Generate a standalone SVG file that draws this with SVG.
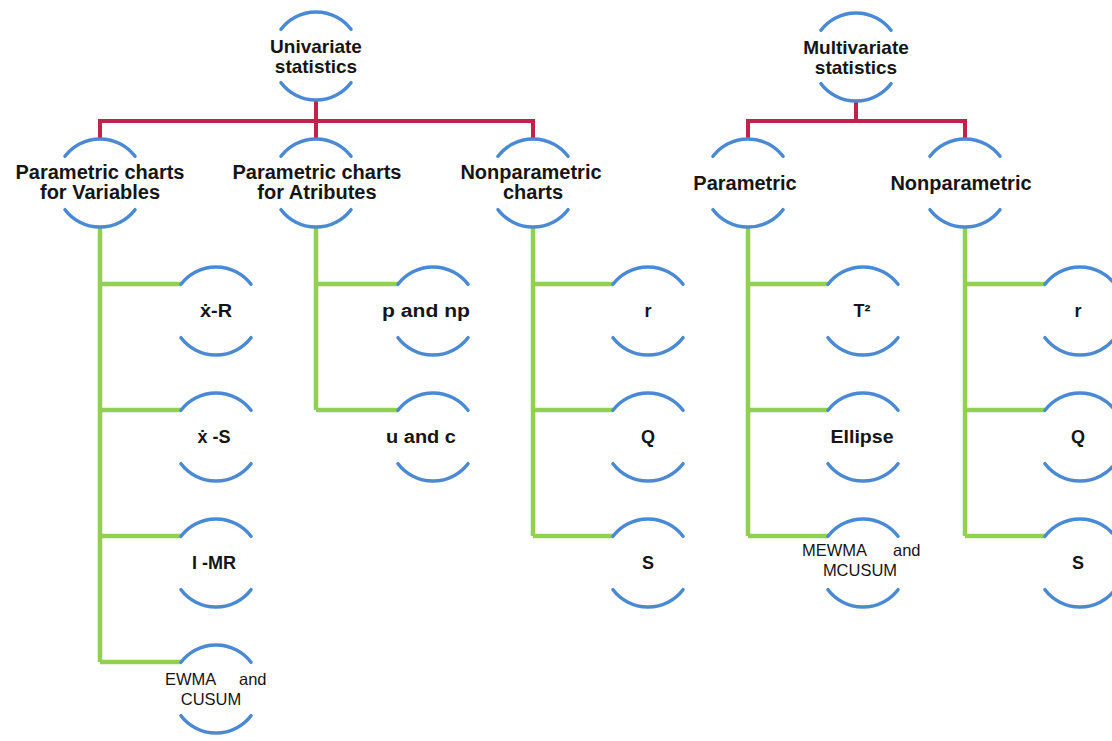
<svg xmlns="http://www.w3.org/2000/svg" width="1112" height="741" viewBox="0 0 1112 741">
<defs>
<style>
.arc{fill:none;stroke:#4a8ad4;stroke-width:3.5;stroke-linecap:round}
.red{fill:none;stroke:#c0224c;stroke-width:4}
.grn{fill:none;stroke:#92d050;stroke-width:4.5}
.t0{font-family:"Liberation Sans",Arial,sans-serif;font-weight:bold;font-size:19px;fill:#151515;text-anchor:middle}
.t1{font-family:"Liberation Sans",Arial,sans-serif;font-weight:bold;font-size:20px;fill:#151515;text-anchor:middle}
.t2{font-family:"Liberation Sans",Arial,sans-serif;font-weight:bold;font-size:18px;fill:#151515;text-anchor:middle}
.t3{font-family:"Liberation Sans",Arial,sans-serif;font-size:16.5px;fill:#151515}
</style>
<path id="ring" d="M-35,-26.7 A44,44 0 0 1 35,-26.7 M-35,26.7 A44,44 0 0 0 35,26.7"/>
</defs>
<rect width="1112" height="741" fill="#ffffff"/>
<g id="connectors">
<path class="red" d="M316,100 V121 M100,139 V121 H533 V139 M316,121 V139"/>
<path class="red" d="M856,101 V121 M748,139 V121 H965 V139"/>
<path class="grn" d="M100,227 V662 M100,284 H181 M100,410 H181 M100,536 H181 M100,662 H181"/>
<path class="grn" d="M316,227 V410 M316,284 H398 M316,410 H398"/>
<path class="grn" d="M533,227 V536 M533,284 H613 M533,410 H613 M533,536 H613"/>
<path class="grn" d="M748,227 V536 M748,284 H828 M748,410 H828 M748,536 H828"/>
<path class="grn" d="M965,227 V536 M965,284 H1045 M965,410 H1045 M965,536 H1045"/>
</g>
<g id="n-univariate"><use href="#ring" class="arc" x="316" y="56"/><text class="t0" x="316" y="53">Univariate</text><text class="t0" x="316" y="73">statistics</text></g>
<g id="n-multivariate"><use href="#ring" class="arc" x="856" y="57"/><text class="t0" x="856" y="54">Multivariate</text><text class="t0" x="856" y="74">statistics</text></g>
<g id="n-pv"><use href="#ring" class="arc" x="100" y="183"/><text class="t1" x="100" y="179">Parametric charts</text><text class="t1" x="100" y="199">for Variables</text></g>
<g id="n-pa"><use href="#ring" class="arc" x="316" y="183"/><text class="t1" x="317" y="179">Parametric charts</text><text class="t1" x="317" y="199">for Atributes</text></g>
<g id="n-nc"><use href="#ring" class="arc" x="533" y="183"/><text class="t1" x="531" y="179">Nonparametric</text><text class="t1" x="533" y="199">charts</text></g>
<g id="n-mp"><use href="#ring" class="arc" x="748" y="183"/><text class="t1" x="745" y="190">Parametric</text></g>
<g id="n-mn"><use href="#ring" class="arc" x="965" y="183"/><text class="t1" x="961" y="190">Nonparametric</text></g>
<g id="n-xr"><use href="#ring" class="arc" x="216" y="311"/><text class="t2" x="216" y="317" textLength="32" lengthAdjust="spacingAndGlyphs">ẋ-R</text></g>
<g id="n-xs"><use href="#ring" class="arc" x="216" y="437"/><text class="t2" x="214" y="443">ẋ -S</text></g>
<g id="n-imr"><use href="#ring" class="arc" x="216" y="563"/><text class="t2" x="214" y="569">I -MR</text></g>
<g id="n-ewma"><use href="#ring" class="arc" x="216" y="689"/><text class="t3" x="165" y="685">EWMA</text><text class="t3" x="239" y="685">and</text><text class="t3" x="211" y="705" text-anchor="middle">CUSUM</text></g>
<g id="n-pnp"><use href="#ring" class="arc" x="433" y="311"/><text class="t2" x="426" y="317" textLength="88" lengthAdjust="spacingAndGlyphs">p and np</text></g>
<g id="n-uc"><use href="#ring" class="arc" x="433" y="437"/><text class="t2" x="421" y="443" textLength="70" lengthAdjust="spacingAndGlyphs">u and c</text></g>
<g id="n-r1"><use href="#ring" class="arc" x="648" y="311"/><text class="t2" x="648" y="317">r</text></g>
<g id="n-q1"><use href="#ring" class="arc" x="648" y="437"/><text class="t2" x="648" y="443">Q</text></g>
<g id="n-s1"><use href="#ring" class="arc" x="648" y="563"/><text class="t2" x="648" y="569">S</text></g>
<g id="n-t2"><use href="#ring" class="arc" x="863" y="311"/><text class="t2" x="862" y="317">T²</text></g>
<g id="n-ellipse"><use href="#ring" class="arc" x="863" y="437"/><text class="t2" x="862" y="443" textLength="63" lengthAdjust="spacingAndGlyphs">Ellipse</text></g>
<g id="n-mewma"><use href="#ring" class="arc" x="863" y="563"/><text class="t3" x="802" y="556">MEWMA</text><text class="t3" x="893" y="556">and</text><text class="t3" x="860" y="576" text-anchor="middle">MCUSUM</text></g>
<g id="n-r2"><use href="#ring" class="arc" x="1080" y="311"/><text class="t2" x="1078" y="317">r</text></g>
<g id="n-q2"><use href="#ring" class="arc" x="1080" y="437"/><text class="t2" x="1078" y="443">Q</text></g>
<g id="n-s2"><use href="#ring" class="arc" x="1080" y="563"/><text class="t2" x="1078" y="569">S</text></g>
</svg>
